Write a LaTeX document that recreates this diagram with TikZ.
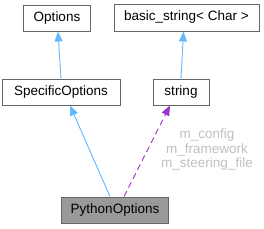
\documentclass[tikz,border=0pt]{standalone}
\usepackage{fontspec}
\setmainfont{Liberation Sans}
\usetikzlibrary{arrows.meta}
\definecolor{boxline}{HTML}{666666}
\definecolor{inhblue}{HTML}{63B8FF}
\definecolor{usepurple}{HTML}{9A32CD}
\definecolor{lbl}{HTML}{C0C0C0}
\definecolor{curfill}{HTML}{999999}
\tikzset{
  cls/.style={draw=boxline, line width=0.9pt, fill=white, minimum height=26pt, inner sep=0pt, font=\fontsize{13.5}{16}\selectfont},
  inh/.style={draw=inhblue, line width=0.9pt, -{Triangle[length=10pt,width=8pt]}},
  usage/.style={draw=usepurple, line width=0.9pt, dash pattern=on 6pt off 4pt, -{Triangle[length=10pt,width=8pt]}},
  lab/.style={text=lbl, align=center, font=\fontsize{13.5}{14.5}\selectfont, inner sep=0pt}
}
\begin{document}
\begin{tikzpicture}[x=1pt,y=-1pt]
\useasboundingbox[fill=white] (0,0) rectangle (264,228);
\node[cls, minimum width=67pt] (opt) at (57,18) {Options};
\node[cls, minimum width=145pt, minimum height=27pt] (bs) at (186.5,17.5) {basic\_string< Char >};
\node[cls, minimum width=118pt] (spec) at (61,92) {SpecificOptions};
\node[cls, minimum width=56pt] (str) at (181,92) {string};
\node[cls, minimum width=107pt, fill=curfill] (py) at (115,210) {PythonOptions};
\draw[inh] (spec.north) -- ([xshift=1pt]opt.south);
\draw[inh] (str.north) -- ([xshift=-3pt]bs.south);
\draw[inh] ([xshift=-5pt]py.north) -- ([xshift=9pt]spec.south);
\draw[usage] ([xshift=9pt]py.north) -- ([xshift=-11pt]str.south);
\node[lab] (lbls) at (207,150) {m\_config\\m\_framework\\m\_steering\_file};
\end{tikzpicture}
\end{document}
